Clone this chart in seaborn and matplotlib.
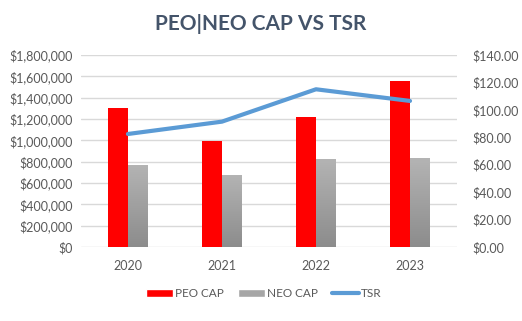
import numpy as np
import pandas as pd
import matplotlib
matplotlib.use("Agg")
import matplotlib.pyplot as plt
import seaborn as sns
from matplotlib.patches import Patch
from matplotlib.lines import Line2D
from matplotlib.ticker import FuncFormatter, MultipleLocator
from matplotlib.colors import LinearSegmentedColormap

years = ["2020", "2021", "2022", "2023"]
peo_cap = [1303000, 994000, 1219000, 1556000]
neo_cap = [769000, 675000, 825000, 834000]
tsr = [82.4, 91.4, 115.0, 106.5]

sns.set_theme(style="white")
plt.rcParams["font.family"] = ["Lato", "DejaVu Sans"]

df = pd.DataFrame({
    "year": years * 2,
    "value": peo_cap + neo_cap,
    "series": ["PEO CAP"] * 4 + ["NEO CAP"] * 4,
})

fig = plt.figure(figsize=(5.22, 3.21), dpi=100)
ax = fig.add_axes([0.155, 0.2305, 0.7205, 0.5982])

red = "#FF0000"
gray = "#A6A6A6"
blue = "#5B9BD5"
tick_color = "#595959"

sns.barplot(data=df, x="year", y="value", hue="series", order=years,
            hue_order=["PEO CAP", "NEO CAP"], palette=[red, gray],
            width=0.425, ax=ax, legend=False, saturation=1, linewidth=0)

# gradient on NEO bars
grad = np.linspace(0, 1, 256).reshape(-1, 1)
cmap = LinearSegmentedColormap.from_list("g", ["#8C8C8C", "#B4B4B4"])
for bar in ax.containers[1]:
    x0, y0 = bar.get_x(), bar.get_y()
    w, h = bar.get_width(), bar.get_height()
    im = ax.imshow(grad, extent=[x0, x0 + w, y0, y0 + h], origin="lower",
                   cmap=cmap, aspect="auto", zorder=bar.get_zorder() + 0.1)
    im.set_clip_path(bar)

ax.set_xlim(-0.5, 3.5)
ax.set_ylim(0, 1800000)
ax.yaxis.set_major_locator(MultipleLocator(200000))
ax.yaxis.set_major_formatter(FuncFormatter(lambda v, p: f"${v:,.0f}"))
ax.grid(axis="y", color="#D9D9D9", linewidth=1)
ax.set_axisbelow(True)
for s in ax.spines.values():
    s.set_visible(False)
ax.tick_params(axis="both", length=0, labelsize=9, colors=tick_color, pad=6)
ax.tick_params(axis="x", pad=9)
ax.set_xlabel("")
ax.set_ylabel("")

ax2 = ax.twinx()
sns.pointplot(x=years, y=tsr, ax=ax2, color=blue, marker="", linewidth=3,
              errorbar=None)
ax2.set_xlim(-0.5, 3.5)
ax2.set_ylim(0, 140)
ax2.yaxis.set_major_locator(MultipleLocator(20))
ax2.yaxis.set_major_formatter(FuncFormatter(lambda v, p: f"${v:.2f}"))
for s in ax2.spines.values():
    s.set_visible(False)
ax2.tick_params(axis="y", length=0, labelsize=9, colors=tick_color, pad=11)
ax2.set_ylabel("")

fig.text(0.5, 0.925, "PEO|NEO CAP VS TSR", ha="center", va="center",
         fontsize=15, fontweight="bold", color="#44546A")

handles = [Patch(facecolor=red, label="PEO CAP"),
           Patch(facecolor=gray, label="NEO CAP"),
           Line2D([0], [0], color=blue, linewidth=3, label="TSR")]
fig.legend(handles=handles, loc="center", bbox_to_anchor=(0.505, 0.085), ncol=3,
           frameon=False, fontsize=8.5, labelcolor=tick_color,
           handlelength=2.3, handleheight=0.55, columnspacing=1.2,
           handletextpad=0.15)

fig.savefig("out.png", dpi=100)
